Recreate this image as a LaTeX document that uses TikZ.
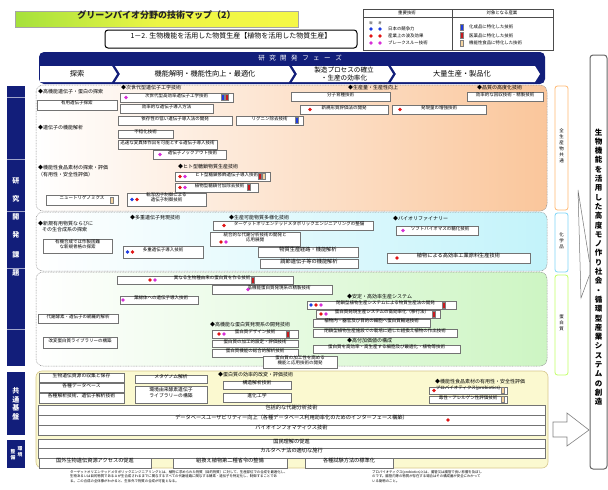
\documentclass[tikz,border=0pt]{standalone}
\usepackage{fontspec}
\setmainfont{Noto Sans CJK JP}
\usetikzlibrary{fit}
\definecolor{navy}{RGB}{18,30,122}
\definecolor{peach}{RGB}{250,198,155}
\definecolor{cyanl}{RGB}{195,243,250}
\definecolor{greenl}{RGB}{205,245,195}
\definecolor{yell}{RGB}{251,249,208}
\definecolor{ybord}{RGB}{215,200,140}
\definecolor{dblue}{RGB}{30,60,225}
\definecolor{dred}{RGB}{225,20,20}
\definecolor{dmag}{RGB}{215,45,215}
\definecolor{sred}{RGB}{200,25,30}
\definecolor{beige}{RGB}{245,212,160}
\definecolor{tgreen}{RGB}{165,225,60}
\definecolor{tyellow}{RGB}{245,248,70}
\tikzset{
  tb/.style={draw=black!55, fill=white, line width=0.5pt, inner sep=0pt, font=\fontsize{4.5}{5.3}\selectfont, align=center},
  tbl/.style={font=\fontsize{5.2}{6}\selectfont},
  tbm/.style={font=\fontsize{4.8}{5.6}\selectfont},
  hd/.style={anchor=west, inner sep=0pt, font=\fontsize{5}{6}\selectfont},
  bartxt/.style={text=white, inner sep=0pt, font=\bfseries\fontsize{7}{8}\selectfont},
  phtxt/.style={inner sep=0pt, align=center, font=\fontsize{7.2}{8.2}\selectfont},
  lgtxt/.style={anchor=west, inner sep=0pt, font=\fontsize{4.4}{5}\selectfont},
  rlab/.style={fill=white, rounded corners=2.5pt, line width=0.8pt, inner sep=0pt, align=center, font=\fontsize{4.5}{6}\selectfont},
  area/.style={rounded corners=7pt},
  areab/.style={rounded corners=7pt, draw=black!45, line width=0.5pt, dash pattern=on 0.8pt off 0.8pt},
  foot/.style={anchor=north west, inner sep=0pt, align=left, font=\fontsize{3.4}{4.8}\selectfont}
}
\newcommand\tbx[7][]{\node[tb,#1, fit={(#3,#4) (#5,#6)}] (#2) {#7};}
\newcommand\dt[3]{\fill[#1] (#2,#3) circle (1.9pt);}
\newcommand\sq[3]{\filldraw[fill=#1, draw=black!50, line width=0.3pt] (#2-1.4,#3-3) rectangle (#2+1.4,#3+3);}
\begin{document}
\begin{tikzpicture}[x=1pt,y=-1pt]
\useasboundingbox (0,0) rectangle (608,490);
\fill[white] (0,0) rectangle (608,490);

% ---------- title ----------
\node[fit={(15,11) (298,27)}, inner sep=0pt, left color=tgreen, right color=tyellow, middle color=tyellow!90!tgreen, draw=black!35, font=\bfseries\fontsize{9}{10}\selectfont, text=black!85] (title) {グリーンバイオ分野の技術マップ（2）};
\node[fit={(105,30) (357,48)}, inner sep=0pt, draw=black, line width=1pt, rounded corners=3pt, font=\fontsize{7}{8}\selectfont] (sub) {1－2. 生物機能を活用した物質生産【植物を活用した物質生産】};

% ---------- legend ----------
\node[fit={(363,9) (553,50)}, inner sep=0pt, draw=black!70, line width=0.5pt] (legend) {};
\draw[black!70, line width=0.5pt] (363,17.5) -- (553,17.5);
\draw[black!70, line width=0.5pt] (452,9) -- (452,50);
\node[inner sep=0pt, font=\fontsize{4.4}{5}\selectfont] (lgh1) at (407,13.3) {重要技術};
\node[inner sep=0pt, font=\fontsize{4.4}{5}\selectfont] (lgh2) at (502,13.3) {対象となる産業};
\node[inner sep=0pt, font=\fontsize{3.2}{4}\selectfont] (lgn) at (371,23.3) {現};
\node[inner sep=0pt, font=\fontsize{3.2}{4}\selectfont] (lgf) at (380,23.3) {将};
\dt{dblue}{371}{29}\dt{dblue}{380}{29}
\dt{dred}{371}{36}\dt{dred}{380}{36}
\dt{dmag}{371}{43}\dt{dmag}{380}{43}
\node[lgtxt] (lg1) at (388,29) {日本の競争力};
\node[lgtxt] (lg2) at (388,36) {産業上の波及効果};
\node[lgtxt] (lg3) at (388,43) {ブレークスルー技術};
\sq{dblue}{462}{27}\sq{sred}{462}{35.5}\sq{beige}{462}{43}
\node[lgtxt] (lg4) at (469,27) {化成品に特化した技術};
\node[lgtxt] (lg5) at (469,35.5) {医薬品に特化した技術};
\node[lgtxt] (lg6) at (469,43) {機能性食品に特化した技術};

% ---------- phase band ----------
\fill[navy, rounded corners=5pt] (39,52) rectangle (545,84);
\node[text=white, inner sep=0pt, font=\fontsize{6.5}{7}\selectfont] (ph0) at (300,58.5) {研\hspace{4.5pt}究\hspace{4.5pt}開\hspace{4.5pt}発\hspace{4.5pt}フ\hspace{4.5pt}ェ\hspace{4.5pt}ー\hspace{4.5pt}ズ};
\fill[white] (40,66) -- (112,66) -- (117,74) -- (112,82) -- (40,82) -- cycle;
\fill[white] (115,66) -- (289,66) -- (294,74) -- (289,82) -- (115,82) -- (120,74) -- cycle;
\fill[white] (292,66) -- (388,66) -- (393,74) -- (388,82) -- (292,82) -- (297,74) -- cycle;
\fill[white] (391,66) -- (535,66) -- (540,74) -- (535,82) -- (391,82) -- (396,74) -- cycle;
\node[phtxt] (ph1) at (77,74) {探索};
\node[phtxt] (ph2) at (205,74) {機能解明・機能性向上・最適化};
\node[phtxt, font=\fontsize{6.6}{7.6}\selectfont] (ph3) at (344,74) {製造プロセスの確立\\・生産の効率化};
\node[phtxt] (ph4) at (462,74) {大量生産・製品化};

% ---------- left bars ----------
\fill[navy] (7,86) rectangle (25,366);
\foreach \yy in {97,159,211,268,329} \draw[white!60!navy, line width=0.6pt] (7,\yy) -- (25,\yy);
\node[bartxt] (k1) at (16,181) {研};
\node[bartxt] (k2) at (16,199) {究};
\node[bartxt] (k3) at (16,217) {開};
\node[bartxt] (k4) at (16,235) {発};
\node[bartxt] (k5) at (16,255) {課};
\node[bartxt] (k6) at (16,273) {題};
\fill[navy] (7,372) rectangle (25,435);
\node[bartxt] (m1) at (16,391) {共};
\node[bartxt] (m2) at (16,399.5) {通};
\node[bartxt] (m3) at (16,408) {基};
\node[bartxt] (m4) at (16,416.5) {盤};
\fill[navy] (7,440) rectangle (25,468);
\node[bartxt, align=center, font=\bfseries\fontsize{4.8}{6}\selectfont] (n1) at (20,452) {環\\境};
\node[bartxt, align=center, font=\bfseries\fontsize{4.8}{6}\selectfont] (n2) at (13,455) {整\\備};

% ---------- areas ----------
\path[area, left color=white, right color=peach] (36,85) rectangle (547,211);
\path[areab] (36,85) rectangle (547,211);
\path[area, left color=white, right color=cyanl] (36,212) rectangle (547,271);
\path[areab] (36,212) rectangle (547,271);
\path[area, left color=white, right color=greenl] (36,272) rectangle (547,366);
\path[areab] (36,272) rectangle (547,366);
\path[rounded corners=6pt, fill=yell, draw=ybord, line width=0.6pt] (36,371) rectangle (548,468);

% ---------- right labels ----------
\node[rlab, draw=orange!55, fit={(555,86) (568,210)}] (r1) {全\\生\\産\\物\\共\\通};
\node[rlab, draw=cyan!50, fit={(555,213) (568,272)}] (r2) {化\\学\\品};
\node[rlab, draw=green!40!yellow!60, fit={(555,275) (568,375)}] (r3) {蛋\\白\\質};
\node[fill=white, draw=black!60, line width=1pt, rounded corners=3pt, inner sep=0pt, fit={(590,55) (607,469)}] (goal) {};
\node[inner sep=0pt, align=center, font=\bfseries\fontsize{7.5}{9.3}\selectfont] (goaltxt) at (598.5,267) {生\\物\\機\\能\\を\\活\\用\\し\\た\\高\\度\\モ\\ノ\\作\\り\\社\\会\\・\\循\\環\\型\\産\\業\\シ\\ス\\テ\\ム\\の\\創\\造};
\coordinate (ct) at (578,190);
\coordinate (cb) at (581,298);
\draw[black!55, line width=0.5pt] (goal.west |- 0,262) -- (ct) -- (cb) -- (goal.west |- 0,275);
\draw[black!50, fill=white, line width=0.6pt] (553,422) -- (567,422) -- (567,413) -- (589,430) -- (567,446) -- (567,437) -- (553,437) -- cycle;

% ---------- region 1 : all products ----------
\node[hd] (h1) at (38,92) {◆高機能遺伝子・蛋白の探索};
\tbx{a1}{37}{100}{117}{110}{有用遺伝子探索}
\node[hd] (h2) at (121,88) {◆次世代型遺伝子工学技術};
\tbx{a2}{120}{93}{233}{102}{次世代型高効率遺伝子工学技術}
\dt{dmag}{126}{97.5}\sq{dblue}{222.5}{97.5}\sq{sred}{226.5}{97.5}
\tbx{a3}{120}{104}{213}{113}{効率的な遺伝子導入方法}
\tbx{a4}{118}{116}{232}{125}{依存性の低い遺伝子導入法の開発}
\tbx{a5}{236}{116}{303}{125}{リグニン除去技術}
\sq{dblue}{297}{120.5}
\node[hd] (h3) at (38,128) {◆遺伝子の機能解析};
\tbx{a6}{118}{130}{173}{138}{不稔化技術}
\tbx{a7}{118}{140}{217}{149}{迅速な変異体作出を可能とする遺伝子導入技術}
\tbx{a8}{153}{150}{226}{159}{\hspace{6pt}遺伝子ノックアウト技術}
\dt{dmag}{160}{154.5}
\node[hd, align=left, font=\fontsize{5}{6.2}\selectfont] (h4) at (38,171) {◆機能性食品素材の探索・評価\\（有用性・安全性評価）};
\node[hd] (h5) at (178,167) {◆ヒト型糖鎖物質生産技術};
\tbx{a9}{175}{172}{270}{181}{\hspace{8pt}ヒト型糖鎖修飾遺伝子導入技術}
\dt{dred}{180}{176.5}\dt{dmag}{185}{176.5}\sq{sred}{259.5}{176.5}\sq{beige}{264}{176.5}
\tbx{a10}{175}{183}{258}{192}{\hspace{6pt}植物型糖鎖付加除去技術}
\dt{dred}{180}{187.5}\dt{dmag}{185}{187.5}\sq{sred}{249}{187.5}
\tbx{a11}{46}{195}{118}{205}{ニュートリゲノミクス}
\sq{beige}{112}{200}
\tbx{a12}{127}{193}{206}{206}{転写因子制御による\\遺伝子制御技術}
\dt{dblue}{132}{199.5}\dt{dred}{137}{199.5}
\node[hd] (h6) at (348,88) {◆生産量・生産性向上};
\tbx{a13}{291}{92}{390}{101}{分子育種技術}
\tbx{a14}{300}{105}{388}{114}{新規形質評価法の開発}
\dt{dred}{310}{109.5}
\tbx{a15}{392}{105}{486}{114}{発現量の増強技術}
\dt{dred}{400}{109.5}
\node[hd] (h7) at (477,88) {◆品質の高度化技術};
\tbx{a16}{467}{92}{543}{101}{効率的な回収技術・精製技術}

% ---------- region 2 : chemicals ----------
\node[hd, align=left, font=\fontsize{5}{6.8}\selectfont] (h8) at (38,226.5) {◆新規有用物質ならびに\\\hspace{4pt}その生合成系の探索};
\tbx{b1}{43}{239}{112}{253}{有機合成では作製困難\\な新規骨格の探索}
\node[hd] (h9) at (130,218) {◆多重遺伝子発現技術};
\tbx{b2}{123}{246}{203}{258}{多重遺伝子導入技術}
\dt{dblue}{127.5}{252}\dt{dred}{132.5}{252}
\node[hd] (h10) at (229,218) {◆生産可能物質多様化技術};
\tbx{b3}{213}{221}{373}{230}{\hspace{12pt}ターゲットオリエンテッドメタボリックエンジニアリングの整備}
\dt{dred}{224}{225.5}
\tbx{b4}{210}{232}{300}{246}{統合的な代謝分析技術の開発と\\応用展開}
\dt{dred}{221}{242}\dt{dmag}{226}{242}
\tbx[tbl]{b5}{258}{247}{358}{257}{物質生産経路・機能解析}
\tbx[tbl]{b6}{260}{259}{358}{268}{調節遺伝子等の機能解析}
\node[hd] (h11) at (393,219) {◆バイオリファイナリー};
\tbx{b7}{396}{226}{478}{235}{\hspace{6pt}ソフトバイオマスの糖化技術}
\dt{dmag}{403}{230.5}
\tbx[tbl]{b8}{387}{253}{530}{263}{植物による高効率工業原料生産技術}
\dt{dred}{397}{258}

% ---------- region 3 : proteins ----------
\tbx{c1}{117}{276}{293}{284}{\hspace{14pt}異なる生物種由来の蛋白質を作る技術}
\dt{dred}{150}{280}\dt{dmag}{155}{280}\sq{sred}{253}{280}
\tbx{c2}{212}{285}{332}{294}{\hspace{14pt}高機能蛋白質発現系の精製技術}
\dt{dmag}{248}{289.5}
\tbx{c3}{120}{296}{198}{304}{\hspace{4pt}葉緑体への遺伝子導入技術}
\dt{dmag}{123}{300}
\tbx{c4}{38}{314}{118}{323}{代謝酵素・遺伝子の網羅的解析}
\tbx{c5}{43}{337}{117}{348}{改変蛋白質ライブラリーの構築}
\node[hd] (h12) at (210,325) {◆高機能な蛋白質発現系の開発技術};
\tbx{c6}{212}{330}{298}{338}{蛋白質デザイン技術}
\dt{dred}{219}{334}\dt{dmag}{224}{334}\sq{sred}{288}{334}
\tbx{c7}{212}{340}{298}{347}{蛋白質の加工的設定・評価技術}
\tbx{c8}{212}{349}{298}{357}{蛋白質機能の総合的解析技術}
\tbx{c9}{263}{356}{337}{368}{蛋白質の加工性を高める\\機能と応用技術の開発}
\node[hd] (h13) at (347,297) {◆安定・高効率生産システム};
\tbx{c10}{307}{301}{456}{309}{\hspace{8pt}閉鎖型植物生産システムによる物質生産法の開発}
\dt{dblue}{311}{305}\dt{dred}{316}{305}\dt{dmag}{321}{305}\sq{sred}{444}{305}
\tbx{c11}{316}{310}{440}{318}{\hspace{8pt}蛋白質発現生産システムの高効率化（移行法）}
\dt{dred}{321}{314}\dt{dmag}{326}{314}\sq{sred}{434}{314}
\tbx{c12}{313}{319}{430}{327}{植物内・器官及び目的の細胞へ蛋白質輸送技術}
\tbx{c13}{313}{329}{457}{337}{閉鎖型植物生産施設での栽培に適した組換え植物の作出技術}
\node[hd] (h14) at (347,341) {◆高付加価値の構成};
\tbx{c14}{313}{345}{460}{353}{蛋白質を高効率・高生産する細胞及び最適化・植物等技術}

% ---------- region 4 : common base ----------
\tbx[tbm]{d1}{39}{373}{124}{382}{生物遺伝資源の収集と保存}
\tbx[tbm]{d2}{39}{383}{124}{392}{各種データベース}
\tbx[tbm]{d3}{39}{393}{124}{403}{各種解析技術、遺伝子解析技術}
\tbx[tbm]{d4}{135}{375}{207}{383}{メタゲノム解析}
\tbx[tbm]{d5}{135}{386}{207}{403}{環境由来酵素遺伝子\\ライブラリーの構築}
\node[hd] (h15) at (218,375) {◆蛋白質の効率的改変・評価技術};
\tbx[tbm]{d6}{223}{381}{291}{389}{構造解析技術}
\tbx[tbm]{d7}{223}{393}{291}{402}{進化工学}
\node[hd] (h16) at (435,382) {◆機能性食品素材の有用性・安全性評価};
\tbx{d11}{429}{387}{507}{394}{プロバイオティクス(probiotics)}
\dt{dred}{434}{390.5}\sq{beige}{503}{390.5}
\tbx{d12}{429}{396}{507}{403}{毒性・アレルゲン性評価技術}
\sq{beige}{503}{399.5}
\tbx[tbl]{d8}{38}{405}{545}{415}{包括的な代謝分析技術}
\tbx[tbl]{d9}{38}{415}{545}{425}{データベースユーザビリティー向上（各種データベース利用効率化のためのインターフェース構築）}
\dt{dred}{448}{420}
\tbx[tbl]{d10}{38}{425}{545}{435}{バイオインフォマティクス技術}
\tbx[tbl]{e1}{38}{439}{545}{448}{国民理解の促進}
\tbx[tbl]{e2}{38}{448}{545}{458}{カルタヘナ法の適切な施行}
\tbx[tbl]{e3}{39}{458}{151}{468}{国外生物遺伝資源アクセスの促進}
\tbx[tbl]{e4}{173}{458}{287}{468}{組換え植物第二種省令の整備}
\tbx[tbl]{e5}{305}{458}{393}{468}{各種試験方法の標準化}

% ---------- footnotes ----------
\node[foot] (f1) at (70,470) {ターゲットオリエンテッドメタボリックエンジニアリングとは、植物に求められた物質（目的物質）に対して、生産部位での合成を最適化し、\\生物あるいは目的物質であるＡが生合成されるまでに関与するすべての代謝経路に関与する酵素・遺伝子を特定化し、制御することであ\\る。この合成の全体像がわかると、生体外で物質の合成が可能となる。};
\node[foot] (f2) at (372,470) {プロバイオティクス(probiotics)とは、腸管又は腸管で良い影響を及ぼし\\のです。腸管内等の物質が存在する場合はその構成菌が安全にわかって\\いる動物のこと。};
\end{tikzpicture}
\end{document}
